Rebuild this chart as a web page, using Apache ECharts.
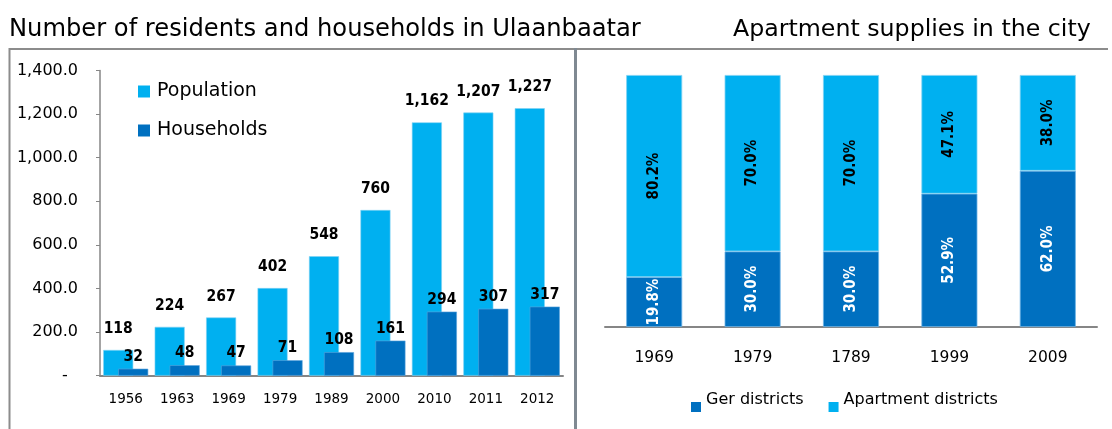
<!DOCTYPE html>
<html>
<head>
<meta charset="utf-8">
<script src="https://cdn.jsdelivr.net/npm/echarts@6/dist/echarts.min.js"></script>
<style>
html,body{margin:0;padding:0;background:#fff;}
#c{width:1112px;height:429px;}
</style>
</head>
<body>
<div id="c"></div>
<script>
// Left chart data
const years = ['1956','1963','1969','1979','1989','2000','2010','2011','2012'];
const population = [118, 224, 267, 402, 548, 760, 1162, 1207, 1227];
const households = [32, 48, 47, 71, 108, 161, 294, 307, 317];
const yTicks = [0, 200, 400, 600, 800, 1000, 1200, 1400];

// Right chart data
const periods = ['1969','1979','1789','1999','2009'];
const gerShare = [19.8, 30.0, 30.0, 52.9, 62.0];
const aptShare = [80.2, 70.0, 70.0, 47.1, 38.0];

const FONT = 'DejaVu Sans';
const BFONT = "'DejaVu Sans Condensed', 'DejaVu Sans'";
const LIGHT = '#00B0F0';
const DARK = '#0070C0';
const AXIS = '#868686';

const fmtInt = v => Number(v).toLocaleString('en-US');
const fmtY = v => v === 0 ? '-  ' : Number(v).toLocaleString('en-US', {minimumFractionDigits: 1, maximumFractionDigits: 1});

const chart = echarts.init(document.getElementById('c'), null, {renderer: 'canvas'});
chart.setOption({
  animation: false,
  backgroundColor: '#fff',
  textStyle: {fontFamily: FONT},
  title: [
    {text: 'Number of residents and households in Ulaanbaatar', left: 4, top: 13,
     textStyle: {fontFamily: FONT, fontSize: 24.2, fontWeight: 'normal', color: '#000'}},
    {text: 'Apartment supplies in the city', left: 728, top: 13,
     textStyle: {fontFamily: FONT, fontSize: 23.7, fontWeight: 'normal', color: '#000'}}
  ],
  legend: [
    {data: ['Population', 'Households'], orient: 'vertical', left: 138, top: 82, padding: 0,
     itemWidth: 12, itemHeight: 12, itemGap: 20, icon: 'rect',
     itemStyle: {borderWidth: 0},
     formatter: name => '{t|' + name + '}',
     textStyle: {fontFamily: FONT, fontSize: 19, color: '#000',
                 rich: {t: {fontFamily: FONT, fontSize: 19, color: '#000', padding: [0, 0, 0, 2]}}}},
    {data: ['Ger districts', 'Apartment districts'], orient: 'horizontal', left: 691, top: 392, padding: 0,
     itemWidth: 10, itemHeight: 10, itemGap: 25, icon: 'rect',
     itemStyle: {borderWidth: 0},
     formatter: name => '{t|' + name + '}',
     textStyle: {fontFamily: FONT, fontSize: 16, color: '#000',
                 rich: {t: {fontFamily: FONT, fontSize: 16, color: '#000', padding: [0, 0, 14, 0]}}}}
  ],
  grid: [
    {left: 100, right: 549, top: 70.5, bottom: 53.3, containLabel: false},
    {left: 605, right: 15, top: 75, bottom: 102, containLabel: false}
  ],
  xAxis: [
    {type: 'category', gridIndex: 0, data: years,
     axisLine: {lineStyle: {color: AXIS, width: 2}}, axisTick: {show: false},
     axisLabel: {fontFamily: FONT, fontSize: 13.5, color: '#000', margin: 17}},
    {type: 'category', gridIndex: 1, data: periods,
     axisLine: {lineStyle: {color: AXIS, width: 2}}, axisTick: {show: false},
     axisLabel: {fontFamily: FONT, fontSize: 15.5, color: '#000', margin: 23}}
  ],
  yAxis: [
    {type: 'value', gridIndex: 0, min: yTicks[0], max: yTicks[yTicks.length - 1], interval: 200,
     splitLine: {show: false},
     axisLine: {show: true, lineStyle: {color: AXIS, width: 1.5}},
     axisTick: {show: true, length: 4, lineStyle: {color: AXIS}},
     axisLabel: {fontFamily: FONT, fontSize: 16, color: '#000', margin: 22, formatter: fmtY}},
    {type: 'value', gridIndex: 1, min: 0, max: 100, show: false, splitLine: {show: false}}
  ],
  series: [
    {name: 'Population', type: 'bar', xAxisIndex: 0, yAxisIndex: 0, data: population,
     barWidth: 30, barGap: '-50%',
     itemStyle: {color: LIGHT, borderColor: '#7fd2f3', borderWidth: 0.6},
     label: {show: true, position: 'top', distance: 13, fontFamily: BFONT, fontWeight: 'bold',
             fontSize: 15.5, color: '#000', formatter: p => fmtInt(p.value)}},
    {name: 'Households', type: 'bar', xAxisIndex: 0, yAxisIndex: 0, data: households,
     barWidth: 30, barGap: '-50%',
     itemStyle: {color: DARK, borderColor: '#5aa3dc', borderWidth: 0.6},
     label: {show: true, position: 'top', distance: 4, fontFamily: BFONT, fontWeight: 'bold',
             fontSize: 15.5, color: '#000', formatter: p => fmtInt(p.value)}},
    {name: 'Ger districts', type: 'bar', xAxisIndex: 1, yAxisIndex: 1, stack: 'share', data: gerShare,
     barWidth: 56,
     itemStyle: {color: DARK, borderColor: '#6cb3e6', borderWidth: 0.8},
     label: {show: true, position: 'inside', rotate: 90, fontFamily: BFONT, fontWeight: 'bold',
             fontSize: 15, color: '#fff', formatter: p => p.value.toFixed(1) + '%'}},
    {name: 'Apartment districts', type: 'bar', xAxisIndex: 1, yAxisIndex: 1, stack: 'share', data: aptShare,
     barWidth: 56,
     itemStyle: {color: LIGHT, borderColor: '#7fd2f3', borderWidth: 0.8},
     label: {show: true, position: 'inside', rotate: 90, fontFamily: BFONT, fontWeight: 'bold',
             fontSize: 15, color: '#000', formatter: p => p.value.toFixed(1) + '%'}}
  ],
  graphic: [
    {type: 'line', shape: {x1: 9, y1: 49, x2: 1108, y2: 49}, style: {stroke: '#8c8c8c', lineWidth: 2}, silent: true},
    {type: 'line', shape: {x1: 9.5, y1: 48, x2: 9.5, y2: 429}, style: {stroke: '#8c8c8c', lineWidth: 2}, silent: true},
    {type: 'line', shape: {x1: 575.5, y1: 48, x2: 575.5, y2: 429}, style: {stroke: '#7f8992', lineWidth: 3}, silent: true}
  ]
});
</script>
</body>
</html>
